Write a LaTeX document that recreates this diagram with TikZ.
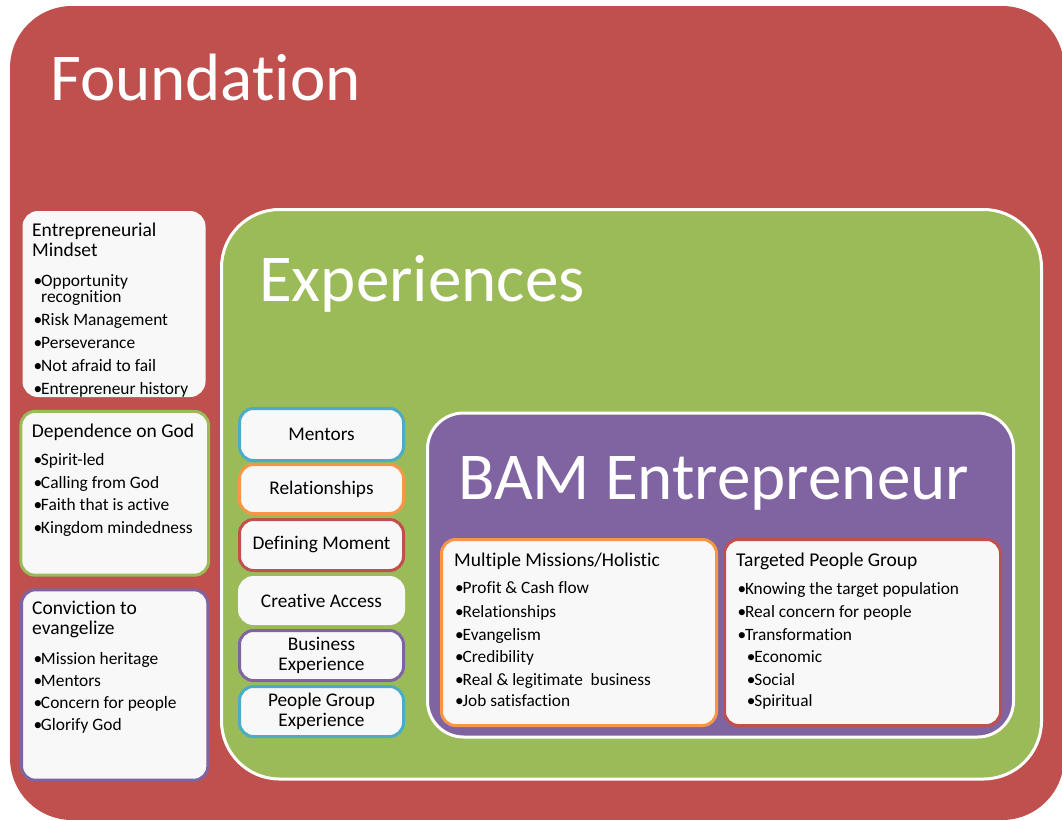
\documentclass[tikz,border=0pt]{standalone}
\usepackage{fontspec}
\setmainfont{Carlito}[Ligatures={NoCommon,NoContextual}, Contextuals=NoAlternate]

\definecolor{fred}{HTML}{C0504D}
\definecolor{fgreen}{HTML}{9BBB59}
\definecolor{fpurple}{HTML}{8064A2}
\definecolor{fblue}{HTML}{4BACC6}
\definecolor{forange}{HTML}{F79646}
\definecolor{cardfill}{HTML}{F8F8F8}

% bullet with a fixed-width slot so item texts line up
\newcommand\bl{\makebox[7.5pt][l]{\textbullet}}

\begin{document}
\begin{tikzpicture}[x=1pt,y=-1pt,
  panel/.style={draw=white, line width=3pt, fill=#1},
  card/.style={draw=#1, line width=3pt, fill=cardfill, rounded corners=14pt, inner sep=0pt},
  expbox/.style={card=#1, minimum width=164pt, minimum height=50pt, align=center,
    font=\fontsize{19.3}{20.5}\selectfont},
  heading/.style={anchor=base west, inner sep=0pt, text=white, font=\fontsize{67}{80}\selectfont},
  cardtitle/.style={anchor=base west, inner sep=0pt, font=\fontsize{19.5}{21}\selectfont},
  item/.style={anchor=base west, inner sep=0pt, font=\fontsize{17.4}{20}\selectfont},
  bamitem/.style={anchor=base west, inner sep=0pt, font=\fontsize{17.3}{20}\selectfont}]

\useasboundingbox (0,0) rectangle (1062,819);

% Foundation backdrop
\fill[fred, rounded corners=62pt] (10,6) rectangle (1064,820);
\node[heading] (foundation) at (50,100.7) {Foundat\kern0pt ion};

% Experiences panel
\draw[panel=fgreen, rounded corners=58pt] (221.5,209.5) rectangle (1041.5,779);
\node[heading] (experiences) at (259,301.7) {Experiences};

% BAM Entrepreneur panel
\draw[panel=fpurple, rounded corners=36pt] (427.5,413) rectangle (1013.5,737);
\node[heading] (bam) at (458,499.3) {BAM Entrepreneur};

% ---- Foundation cards ----
\node[card=cardfill, minimum width=180pt, minimum height=183pt] (mindset) at (114,304) {};
\node[cardtitle] (mindset-t1) at (32,236) {Entrepreneurial};
\node[cardtitle] (mindset-t2) at (32,256.7) {Mindset};
\node[item] (mindset-1) at (33.5,286) {\bl Opportunity};
\node[item] (mindset-1b) at (41,302.7) {recognition};
\node[item] (mindset-2) at (33.5,325.7) {\bl Risk Management};
\node[item] (mindset-3) at (33.5,348.7) {\bl Perseverance};
\node[item] (mindset-4) at (33.5,371.3) {\bl Not afraid to fail};
\node[item] (mindset-5) at (33.5,394) {\bl Entrepreneur history};

\node[card=fgreen, minimum width=187.7pt, minimum height=163.7pt] (depend) at (114.7,493.3) {};
\node[cardtitle] (depend-t) at (31.7,437.7) {Dependence on God};
\node[item] (depend-1) at (33.3,465) {\bl Spirit-led};
\node[item] (depend-2) at (33.3,488.3) {\bl Calling from God};
\node[item] (depend-3) at (33.3,510.7) {\bl Faith that is active};
\node[item] (depend-4) at (33.3,533.3) {\bl Kingdom mindedness};

\node[card=fpurple, minimum width=186.3pt, minimum height=190.4pt] (convict) at (114.7,685) {};
\node[cardtitle] (convict-t1) at (32,614.3) {Conviction to};
\node[cardtitle] (convict-t2) at (32,634) {evangelize};
\node[item] (convict-1) at (33.3,664.3) {\bl Mission heritage};
\node[item] (convict-2) at (33.3,686) {\bl Mentors};
\node[item] (convict-3) at (33.3,708.3) {\bl Concern for people};
\node[item] (convict-4) at (33.3,730) {\bl Glorify God};

% ---- Experience cards ----
\node[expbox=fblue, minimum height=52pt] (mentors) at (321.5,434.5) {Mentors};
\node[expbox=forange, minimum height=49pt] (relations) at (321.5,489) {Relationships};
\node[expbox=fred, minimum height=51pt] (defining) at (321.5,545) {Defining Moment};
\node[expbox=cardfill, minimum height=46pt] (creative) at (321.5,600.5) {Creative Access};
\node[expbox=fpurple] (business) at (321.5,655.5) {Business\\Experience};
\node[expbox=fblue] (peoplegrp) at (321.5,711.5) {People Group\\Experience};

% ---- BAM cards ----
\node[card=forange, minimum width=275pt, minimum height=186pt] (missions) at (579,632.5) {};
\node[cardtitle] (missions-t) at (454,566.7) {Multiple Missions/Holistic};
\node[bamitem] (missions-1) at (455,593.5) {\bl Profit \& Cash flow};
\node[bamitem] (missions-2) at (455,617.3) {\bl Relationships};
\node[bamitem] (missions-3) at (455,640) {\bl Evangelism};
\node[bamitem] (missions-4) at (455,662.5) {\bl Credibility};
\node[bamitem] (missions-5) at (455,685) {\bl Real \& legitimate\ \ business};
\node[bamitem] (missions-6) at (455,706.7) {\bl Job satisfaction};

\node[card=fred, minimum width=276pt, minimum height=186pt] (target) at (862.5,632.5) {};
\node[cardtitle] (target-t) at (736,566.7) {Targeted People Group};
\node[bamitem] (target-1) at (737.3,594) {\bl Knowing the target population};
\node[bamitem] (target-2) at (737.3,617.3) {\bl Real concern for people};
\node[bamitem] (target-3) at (737.3,640) {\bl Transformation};
\node[bamitem] (target-3a) at (746.7,662.7) {\bl Economic};
\node[bamitem] (target-3b) at (746.7,685) {\bl Social};
\node[bamitem] (target-3c) at (746.7,706.7) {\bl Spiritual};

\end{tikzpicture}
\end{document}
